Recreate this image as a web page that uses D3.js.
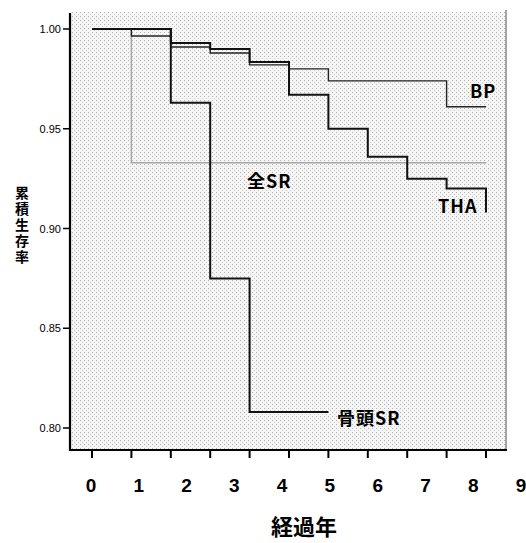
<!DOCTYPE html>
<html>
<head>
<meta charset="utf-8">
<script src="https://cdn.jsdelivr.net/npm/d3@7/dist/d3.min.js"></script>
<style>
  body { margin: 0; background: #fff; }
  svg { display: block; }
  .num { font-family: 'Liberation Sans', Arial, sans-serif; font-weight: bold; }
  .jp { font-family: 'Noto Sans CJK JP', sans-serif; font-weight: bold; }
</style>
</head>
<body>
<script>
// step curves: values at each interval (0..10)
var intervals = [0, 1, 2, 3, 4, 5, 6, 7, 8, 9, 10];
var tha = [1.000, 1.000, 0.993, 0.990, 0.9835, 0.967, 0.950, 0.936, 0.925, 0.920, 0.908];
var bp = [1.000, 0.9965, 0.991, 0.988, 0.982, 0.980, 0.974, 0.974, 0.974, 0.961, 0.961];
var allSR = [1.000, 0.933, 0.933, 0.933, 0.933, 0.933, 0.933, 0.933, 0.933, 0.933, 0.933];
var headSR = [1.000, 1.000, 0.963, 0.875, 0.808, 0.808, 0.808];
var yTicks = [0.80, 0.85, 0.90, 0.95, 1.00];
var yearLabels = [0, 1, 2, 3, 4, 5, 6, 7, 8, 9];

var width = 526, height = 543;

var svg = d3.select('body').append('svg')
  .attr('width', width)
  .attr('height', height);

var x = d3.scaleLinear().domain([0, 10]).range([92, 486]);   // tick/interval scale
var xYear = d3.scaleLinear().domain([0, 9]).range([91, 521]); // year label scale
var y = d3.scaleLinear().domain([0.80, 1.00]).range([428, 29]);

// stippled background
var pat = svg.append('defs').append('pattern')
  .attr('id', 'stip')
  .attr('width', 4).attr('height', 4)
  .attr('patternUnits', 'userSpaceOnUse');
pat.append('rect').attr('width', 4).attr('height', 4).attr('fill', '#f6f6f6');
pat.append('rect').attr('x', 0).attr('y', 0).attr('width', 1).attr('height', 1).attr('fill', '#b0b0b0');
pat.append('rect').attr('x', 2).attr('y', 2).attr('width', 1).attr('height', 1).attr('fill', '#c8c8c8');

svg.append('rect')
  .attr('x', 71).attr('y', 12)
  .attr('width', 435).attr('height', 438)
  .attr('fill', 'url(#stip)');

// right border
svg.append('line')
  .attr('x1', 506).attr('x2', 506).attr('y1', 10).attr('y2', 450)
  .attr('stroke', '#888').attr('stroke-width', 1.5);

var line = d3.line()
  .x(function (d) { return x(d[0]); })
  .y(function (d) { return y(d[1]); })
  .curve(d3.curveStepAfter);

function pts(vals) {
  return vals.map(function (v, i) { return [intervals[i], v]; });
}

svg.append('path')
  .datum(pts(allSR))
  .attr('d', line)
  .attr('fill', 'none')
  .attr('stroke', '#a8a8a8')
  .attr('stroke-width', 1.5);

svg.append('path')
  .datum(pts(bp))
  .attr('d', line)
  .attr('fill', 'none')
  .attr('stroke', '#222')
  .attr('stroke-width', 1.4);

svg.append('path')
  .datum(pts(tha))
  .attr('d', line)
  .attr('fill', 'none')
  .attr('stroke', '#111')
  .attr('stroke-width', 2);

svg.append('path')
  .datum(pts(headSR))
  .attr('d', line)
  .attr('fill', 'none')
  .attr('stroke', '#111')
  .attr('stroke-width', 2);

// axes
svg.append('line')
  .attr('x1', 70).attr('x2', 70).attr('y1', 13).attr('y2', 451)
  .attr('stroke', '#000').attr('stroke-width', 2.2);
svg.append('line')
  .attr('x1', 69).attr('x2', 507).attr('y1', 450).attr('y2', 450)
  .attr('stroke', '#000').attr('stroke-width', 2.2);

svg.selectAll('.ytick')
  .data(yTicks)
  .enter().append('line')
  .attr('x1', 63).attr('x2', 70)
  .attr('y1', function (d) { return y(d); })
  .attr('y2', function (d) { return y(d); })
  .attr('stroke', '#000').attr('stroke-width', 1.5);

svg.selectAll('.ylab')
  .data(yTicks)
  .enter().append('text')
  .attr('x', 61)
  .attr('y', function (d) { return y(d) + 4; })
  .attr('text-anchor', 'end')
  .attr('font-family', "'Liberation Sans', Arial, sans-serif")
  .attr('font-size', 11)
  .text(function (d) { return d.toFixed(2); });

svg.selectAll('.xtick')
  .data(intervals)
  .enter().append('line')
  .attr('x1', function (d) { return x(d); })
  .attr('x2', function (d) { return x(d); })
  .attr('y1', 450).attr('y2', 458)
  .attr('stroke', '#000').attr('stroke-width', 2);

svg.selectAll('.xlab')
  .data(yearLabels)
  .enter().append('text')
  .attr('class', 'num')
  .attr('x', function (d) { return xYear(d); })
  .attr('y', 492)
  .attr('text-anchor', 'middle')
  .attr('font-size', 19)
  .text(function (d) { return d; });

svg.append('text')
  .attr('class', 'jp')
  .attr('x', 304).attr('y', 535)
  .attr('text-anchor', 'middle')
  .attr('font-size', 22)
  .text('経過年');

// vertical y title
svg.append('text')
  .attr('class', 'jp')
  .attr('x', 22).attr('y', 186)
  .attr('font-size', 14)
  .style('writing-mode', 'vertical-rl')
  .style('text-orientation', 'upright')
  .style('letter-spacing', '2px')
  .text('累積生存率');

// series labels
var labels = [
  { t: 'BP', x: 470, y: 98 },
  { t: 'THA', x: 438, y: 213 },
  { t: '全SR', x: 247, y: 188 },
  { t: '骨頭SR', x: 337, y: 425 }
];
svg.selectAll('.slab')
  .data(labels)
  .enter().append('text')
  .attr('class', 'jp')
  .attr('x', function (d) { return d.x; })
  .attr('y', function (d) { return d.y; })
  .attr('font-size', 18)
  .style('letter-spacing', '1px')
  .text(function (d) { return d.t; });
</script>
</body>
</html>
